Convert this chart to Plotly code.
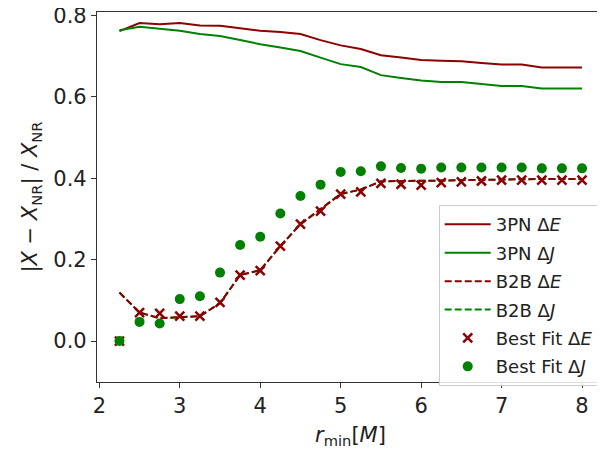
import plotly.graph_objects as go

r_min = [2.25, 2.5, 2.75, 3.0, 3.25, 3.5, 3.75, 4.0, 4.25, 4.5, 4.75, 5.0,
         5.25, 5.5, 5.75, 6.0, 6.25, 6.5, 6.75, 7.0, 7.25, 7.5, 7.75, 8.0]

pn3_dE = [0.761, 0.781, 0.778, 0.781, 0.775, 0.774, 0.768, 0.762, 0.759, 0.754, 0.739, 0.726,
          0.717, 0.702, 0.696, 0.690, 0.688, 0.687, 0.683, 0.679, 0.679, 0.672, 0.672, 0.672]
pn3_dJ = [0.763, 0.772, 0.767, 0.762, 0.754, 0.749, 0.739, 0.729, 0.721, 0.712, 0.696, 0.680,
          0.673, 0.653, 0.646, 0.640, 0.636, 0.636, 0.631, 0.626, 0.626, 0.620, 0.620, 0.620]
b2b_dE = [0.119, 0.070, 0.056, 0.058, 0.061, 0.093, 0.162, 0.174, 0.233, 0.287, 0.323, 0.361,
          0.372, 0.392, 0.393, 0.393, 0.394, 0.395, 0.396, 0.397, 0.398, 0.398, 0.398, 0.398]
b2b_dJ = list(b2b_dE)
fit_dE = [0.0, 0.070, 0.068, 0.061, 0.061, 0.095, 0.162, 0.173, 0.233, 0.287, 0.319, 0.361,
          0.366, 0.387, 0.385, 0.383, 0.389, 0.391, 0.393, 0.395, 0.395, 0.395, 0.395, 0.395]
fit_dJ = [0.0, 0.047, 0.043, 0.103, 0.110, 0.168, 0.236, 0.256, 0.313, 0.356, 0.384, 0.415,
          0.417, 0.429, 0.425, 0.423, 0.426, 0.426, 0.426, 0.426, 0.426, 0.424, 0.424, 0.424]

x_ticks = [2, 3, 4, 5, 6, 7, 8]
y_ticks = [0.0, 0.2, 0.4, 0.6, 0.8]
y_tick_text = ["0.0", "0.2", "0.4", "0.6", "0.8"]

RED = "#8b0000"
GREEN = "#008000"
FONT = "DejaVu Sans"

fig = go.Figure()
fig.add_trace(go.Scatter(x=r_min, y=pn3_dE, mode="lines", name="3PN Δ<i>E</i>",
                         line=dict(color=RED, width=2), legendrank=1, legendgroup="a"))
fig.add_trace(go.Scatter(x=r_min, y=pn3_dJ, mode="lines", name="3PN Δ<i>J</i>",
                         line=dict(color=GREEN, width=2), legendrank=2, legendgroup="b"))
fig.add_trace(go.Scatter(x=r_min, y=b2b_dJ, mode="lines", name="B2B Δ<i>J</i>",
                         line=dict(color=GREEN, width=2, dash="7px,3px"), legendrank=4,
                         legendgroup="d"))
fig.add_trace(go.Scatter(x=r_min, y=b2b_dE, mode="lines", name="B2B Δ<i>E</i>",
                         line=dict(color=RED, width=2, dash="7px,3px"), legendrank=3,
                         legendgroup="c"))
fig.add_trace(go.Scatter(x=r_min, y=fit_dE, mode="markers", name="Best Fit Δ<i>E</i>",
                         marker=dict(symbol="x-thin", size=9, color=RED,
                                     line=dict(color=RED, width=2.5)), legendrank=5,
                         legendgroup="e"))
fig.add_trace(go.Scatter(x=r_min, y=fit_dJ, mode="markers", name="Best Fit Δ<i>J</i>",
                         marker=dict(symbol="circle", size=10, color=GREEN), legendrank=6,
                         legendgroup="f"))

axis_common = dict(showline=True, linecolor="#333333", linewidth=1.2, mirror=True,
                   ticks="outside", ticklen=5, tickcolor="#333333", showgrid=False,
                   zeroline=False, automargin=False, ticklabeloverflow="allow",
                   tickfont=dict(family=FONT, size=21, color="#222"))

fig.update_xaxes(range=[1.971, 8.273], tickvals=x_ticks,
                 title=dict(text="<i>r</i><sub>min</sub>[<i>M</i>]",
                            font=dict(family=FONT, size=21, color="#222"), standoff=12),
                 **axis_common)
fig.update_yaxes(range=[-0.1006, 0.808], tickvals=y_ticks, ticktext=y_tick_text,
                 title=dict(text="|<i>X</i> − <i>X</i><sub>NR</sub>| / <i>X</i><sub>NR</sub>",
                            font=dict(family=FONT, size=21, color="#222"), standoff=9),
                 **axis_common)

fig.update_layout(
    width=597, height=441,
    margin=dict(l=89, r=1, t=4, b=67, autoexpand=False),
    plot_bgcolor="white", paper_bgcolor="white",
    font=dict(family=FONT, color="#222"),
    legend=dict(x=0.674, y=0.478, xanchor="left", yanchor="top",
                bgcolor="rgba(255,255,255,0.85)", bordercolor="#cccccc", borderwidth=1,
                font=dict(family=FONT, size=18, color="#222"), itemwidth=46,
                tracegroupgap=2),
)

fig.write_html("out.html")
